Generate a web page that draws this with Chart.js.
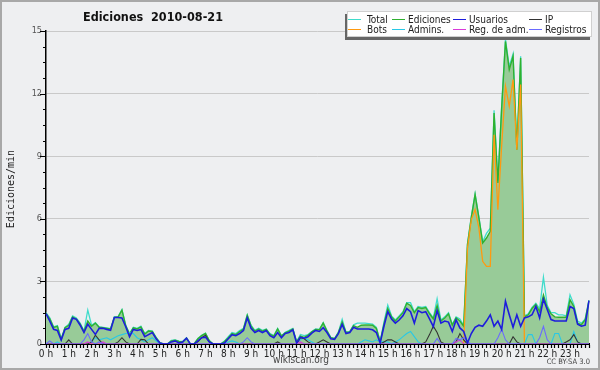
<!DOCTYPE html>
<html>
<head>
<meta charset="utf-8">
<script src="https://cdn.jsdelivr.net/npm/chart.js"></script>
<style>
  body { margin: 0; background: #eeeff1; }
  canvas { display: block; }
</style>
</head>
<body>
<canvas id="edits" width="600" height="370"></canvas>
<script>
// tick labels, one per hour (data is every 10 min)
const hourLabels = ['0 h','1 h','2 h','3 h','4 h','5 h','6 h','7 h','8 h','9 h','10 h','11 h',
  '12 h','13 h','14 h','15 h','16 h','17 h','18 h','19 h','20 h','21 h','22 h','23 h'];
const yTicks = [0, 3, 6, 9, 12, 15];

// edits per minute, 144 slots of 10 min
const total = [
  1.5,1.25,0.82,0.88,0.25,0.8,0.95,1.35,1.25,1.0,
  0.62,1.63,0.9,1.02,0.82,0.8,0.77,0.74,1.3,1.32,
  1.65,0.9,0.5,0.8,0.75,0.85,0.5,0.65,0.62,0.32,
  0.07,0,0,0.17,0.2,0.14,0.12,0.3,0,0,
  0.27,0.42,0.52,0.17,0,0,0,0.14,0.35,0.55,
  0.5,0.65,0.75,1.4,0.9,0.65,0.75,0.65,0.72,0.5,
  0.4,0.75,0.4,0.56,0.65,0.75,0.12,0.45,0.4,0.45,
  0.6,0.72,0.7,1.02,0.65,0.32,0.27,0.57,1.18,0.57,
  0.6,0.92,1.0,1.0,1.0,0.98,0.95,0.8,0.12,1.05,
  1.86,1.35,1.15,1.35,1.55,1.98,1.98,1.55,1.8,1.75,
  1.8,1.5,1.25,2.17,1.15,1.3,1.5,0.95,1.3,1.2,
  0.9,4.8,6.1,7.2,6.1,4.9,5.3,5.55,11.2,7.8,
  11.4,14.6,13.3,13.9,9.4,13.79,1.35,1.45,1.75,1.95,
  1.7,3.2,1.85,1.5,1.5,1.4,1.4,1.35,2.36,1.9,
  1.1,1.0,1.2,2.1
];
const ediciones = [
  1.47,1.2,0.8,0.85,0.22,0.78,0.9,1.3,1.2,0.95,
  0.6,1.1,0.85,1.0,0.8,0.78,0.75,0.72,1.28,1.3,
  1.62,0.87,0.47,0.78,0.72,0.82,0.47,0.62,0.6,0.3,
  0.05,0,0,0.15,0.18,0.12,0.1,0.28,0,0,
  0.25,0.4,0.5,0.15,0,0,0,0.12,0.3,0.5,
  0.45,0.6,0.72,1.37,0.86,0.62,0.72,0.62,0.7,0.46,
  0.38,0.72,0.38,0.54,0.62,0.72,0.1,0.38,0.32,0.42,
  0.58,0.7,0.68,1.0,0.62,0.3,0.25,0.55,1.05,0.55,
  0.58,0.88,0.8,0.9,0.91,0.91,0.9,0.75,0.1,0.95,
  1.7,1.3,1.1,1.3,1.5,1.95,1.85,1.5,1.75,1.7,
  1.75,1.45,1.2,1.85,1.1,1.25,1.45,0.9,1.25,1.1,
  0.85,4.76,6.04,7.16,6.04,4.84,5.08,5.4,11.07,7.72,
  11.3,14.5,13.15,13.79,9.31,13.7,1.3,1.4,1.7,1.9,
  1.55,2.35,1.75,1.45,1.3,1.28,1.28,1.28,2.12,1.8,
  1.0,0.93,1.17,2.08
];
const usuarios = [
  1.45,1.1,0.7,0.65,0.19,0.7,0.75,1.25,1.18,0.9,
  0.55,0.95,0.7,0.46,0.75,0.75,0.7,0.66,1.27,1.27,
  1.25,0.83,0.35,0.7,0.65,0.7,0.35,0.45,0.55,0.25,
  0.05,0,0,0.1,0.15,0.05,0.1,0.28,0,0,
  0.15,0.3,0.33,0.1,0,0,0,0.05,0.25,0.45,
  0.4,0.5,0.65,1.26,0.75,0.55,0.65,0.55,0.65,0.4,
  0.3,0.55,0.3,0.5,0.55,0.68,0.05,0.33,0.28,0.35,
  0.52,0.65,0.6,0.78,0.55,0.25,0.22,0.5,0.94,0.5,
  0.55,0.8,0.72,0.72,0.72,0.72,0.68,0.55,0.05,0.85,
  1.55,1.2,1.0,1.15,1.35,1.7,1.55,1.0,1.6,1.5,
  1.55,1.2,0.83,1.6,1.0,1.1,1.05,0.6,1.15,0.77,
  0.6,0.05,0.5,0.8,0.9,0.85,1.1,1.4,0.85,1.1,
  0.7,2.05,1.4,0.8,1.4,0.85,1.25,1.3,1.4,1.8,
  1.25,2.15,1.65,1.17,1.1,1.1,1.1,1.1,1.8,1.7,
  0.95,0.85,0.9,2.08
];
const ip = [
  0,0,0,0,0,0,0.2,0,0,0,
  0,0,0.1,0.42,0.2,0,0,0,0,0.1,
  0.3,0.1,0,0,0,0.22,0.2,0,0,0,
  0,0,0,0,0,0,0,0,0,0,
  0.1,0.3,0.42,0.1,0,0,0,0,0,0,
  0,0,0,0,0,0,0,0,0,0,
  0,0.1,0,0,0,0,0,0.3,0.25,0.1,
  0,0,0.1,0.2,0.1,0,0,0,0,0,
  0,0,0,0,0,0,0,0,0,0.1,
  0.2,0.2,0.1,0,0,0,0,0,0,0,
  0.1,0.45,0.85,0.55,0.1,0,0,0,0.1,0.5,
  0.2,0,0,0,0,0,0,0,0,0,
  0,0,0,0.35,0.1,0,0,0,0,0,
  0,0,0,0,0,0,0,0.1,0.2,0.45,
  0.1,0,0,0
];
const bots = [
  0,0,0,0,0,0,0,0,0,0, 0,0,0,0,0,0,0,0,0,0,
  0,0,0,0,0,0,0,0,0,0, 0,0,0,0,0,0,0,0,0,0,
  0,0,0,0,0,0,0,0,0,0, 0,0,0,0,0,0,0,0,0,0,
  0,0,0,0,0,0,0,0,0,0, 0,0,0,0,0,0,0,0,0,0,
  0,0,0,0,0,0,0,0,0,0, 0,0,0,0,0,0,0,0,0,0,
  0,0,0,0,0,0,0,0,0,0,
  0,4.6,5.96,6.44,5.56,3.96,3.72,3.72,10.03,6.44,
  9.5,12.35,11.39,12.67,9.31,12.43,0,0,0,0,
  0,0,0,0,0,0,0,0,0,0,
  0,0,0,0
];
const admins = [
  0,0,0,0.1,0,0,0,0,0,0,
  0,0,0.1,0.3,0.2,0.25,0.3,0.2,0.3,0.4,
  0.45,0.5,0.55,0.5,0.3,0.2,0.1,0.2,0.3,0.15,
  0,0,0,0,0,0,0,0,0,0,
  0,0,0,0,0,0,0,0,0.1,0.15,
  0.1,0,0,0,0,0,0,0,0,0,
  0,0,0,0,0,0,0,0.2,0.3,0.2,
  0.1,0,0,0,0,0,0,0,0,0,
  0,0,0,0.1,0.2,0.15,0.1,0.2,0.1,0.1,
  0.1,0,0.1,0.2,0.35,0.5,0.6,0.35,0.1,0,
  0,0,0,0,0,0,0,0,0,0,
  0,0,0,0,0,0,0,0,0,0,
  0,0,0,0,0,0,0,0.45,0.45,0,
  0,0,0,0,0.5,0.5,0,0,0,0.6,
  0.1,0,0,0
];
const regAdm = [
  0,0,0,0,0,0,0,0,0,0,
  0,0.1,0,0,0,0.1,0,0,0,0,
  0,0,0,0,0,0,0,0,0,0,
  0,0,0,0,0,0,0,0,0,0,
  0,0,0,0,0,0,0,0,0,0,
  0,0,0,0,0,0,0,0,0,0,
  0,0,0,0,0,0,0,0.1,0,0,
  0,0,0,0,0,0,0,0,0,0,
  0,0,0,0,0,0,0,0,0,0,
  0,0,0,0,0,0,0,0,0,0,
  0,0,0,0,0,0,0,0,0.1,0.2,
  0,0,0,0,0,0,0,0,0,0,
  0,0,0,0,0,0,0,0,0,0,
  0,0,0,0,0,0,0,0,0,0,
  0,0,0,0
];
const registros = [
  0,0.15,0,0,0,0,0,0,0,0,
  0.2,0.5,0.1,0,0.1,0,0,0,0,0,
  0,0,0,0,0,0,0,0,0,0,
  0,0,0,0,0,0,0,0,0,0,
  0,0,0,0,0,0,0,0,0,0,
  0,0,0.1,0.3,0.1,0,0,0,0,0,
  0,0,0,0,0,0,0,0,0,0,
  0,0,0,0,0,0,0,0,0,0,
  0,0,0,0,0,0,0,0,0,0,
  0,0,0,0,0,0,0,0,0,0,
  0,0,0,0.27,0,0,0,0,0.27,0.2,
  0.3,0.1,0,0,0,0,0,0,0,0.3,
  0.7,0.2,0,0,0,0,0,0,0,0,
  0.3,0.85,0.2,0,0,0,0,0,0,0,
  0,0,0,0
];

// build the 144 category labels from the hour labels
const slotLabels = [];
hourLabels.forEach((h) => {
  for (let m = 0; m < 6; m++) slotLabels.push(m === 0 ? h : '');
});

const BG = '#eeeff1';
const condensed = '"DejaVu Sans Condensed", "DejaVu Sans", sans-serif';

const series = [
  { label: 'Usuarios', data: usuarios, color: '#1d1ddc', width: 1.6 },
  { label: 'Registros', data: registros, color: '#6a6aff', width: 1.1 },
  { label: 'Reg. de adm.', data: regAdm, color: '#d93ad9', width: 1.1 },
  { label: 'IP', data: ip, color: '#333333', width: 1.1 },
  { label: 'Admins.', data: admins, color: '#28c8e6', width: 1.1 },
  { label: 'Bots', data: bots, color: '#ff9a10', width: 1.3 },
  { label: 'Ediciones', data: ediciones, color: '#2fb12f', width: 1.4, fill: 'origin' },
  { label: 'Total', data: total, color: '#3fdccb', width: 1.3 }
];

// legend layout order as in the picture
const legendRows = [
  ['Total', 'Ediciones', 'Usuarios', 'IP'],
  ['Bots', 'Admins.', 'Reg. de adm.', 'Registros']
];
const legendLineX = [348, 392, 453, 529];
const legendTextX = [367, 408, 469, 545];

const decor = {
  id: 'decor',
  beforeDraw(chart) {
    const c = chart.ctx;
    c.save();
    c.fillStyle = BG;
    c.fillRect(0, 0, chart.width, chart.height);
    c.restore();
  },
  afterDraw(chart) {
    const c = chart.ctx;
    const y = chart.scales.y;
    const area = chart.chartArea;
    c.save();
    // y tick marks, major every 3, minor every 0.75
    c.strokeStyle = '#000';
    c.lineWidth = 1;
    for (let v = 0; v <= 15.001; v += 0.75) {
      const py = Math.round(y.getPixelForValue(v)) + 0.5;
      const major = Math.abs(v % 3) < 0.01;
      c.beginPath();
      c.moveTo(area.left - (major ? 6 : 3), py);
      c.lineTo(area.left, py);
      c.stroke();
    }

    // title
    c.fillStyle = '#111';
    c.font = 'bold 12.5px ' + condensed;
    c.textAlign = 'center';
    c.textBaseline = 'alphabetic';
    c.fillText('Ediciones  2010-08-21', 153, 21);

    // y axis title
    c.save();
    c.translate(14, 189);
    c.rotate(-Math.PI / 2);
    c.font = '10px "DejaVu Sans Mono", monospace';
    c.fillStyle = '#222';
    c.textAlign = 'center';
    c.fillText('Ediciones/min', 0, 0);
    c.restore();

    // legend box with shadow
    c.fillStyle = '#666';
    c.fillRect(345, 14, 245, 26);
    c.fillStyle = '#ffffff';
    c.fillRect(347, 11, 245, 26);
    c.strokeStyle = '#d0d0d0';
    c.strokeRect(347.5, 11.5, 244, 25);
    c.font = '10px ' + condensed;
    c.textAlign = 'left';
    legendRows.forEach((row, r) => {
      const ly = r === 0 ? 19.5 : 29.5;
      row.forEach((name, k) => {
        const s = series.find((d) => d.label === name);
        const lx = legendLineX[k];
        c.strokeStyle = s.color;
        c.lineWidth = 1;
        c.beginPath();
        c.moveTo(lx, ly);
        c.lineTo(lx + 13, ly);
        c.stroke();
        c.fillStyle = '#222';
        c.fillText(name, legendTextX[k], ly + 3.5);
      });
    });

    // footer
    c.fillStyle = '#444';
    c.font = '10px ' + condensed;
    c.textAlign = 'center';
    c.fillText('wikiscan.org', 301, 363);
    c.font = '7.5px ' + condensed;
    c.textAlign = 'right';
    c.fillText('CC BY-SA 3.0', 590, 364);

    // outer frame
    c.strokeStyle = '#a8a8a8';
    c.lineWidth = 2;
    c.strokeRect(1, 1, chart.width - 2, chart.height - 2);
    c.restore();
  }
};

new Chart(document.getElementById('edits'), {
  type: 'line',
  data: {
    labels: slotLabels,
    datasets: series.map((s) => ({
      label: s.label,
      data: s.data,
      borderColor: s.color,
      borderWidth: s.width,
      backgroundColor: s.fill ? '#98cb98' : s.color,
      fill: s.fill || false,
      pointRadius: 0,
      tension: 0
    }))
  },
  options: {
    responsive: false,
    animation: false,
    layout: { padding: { top: 31, right: 11, left: 0, bottom: 0 } },
    plugins: {
      legend: { display: false },
      title: { display: false },
      tooltip: { enabled: false },
      filler: { drawTime: 'beforeDatasetsDraw' }
    },
    scales: {
      x: {
        type: 'category',
        offset: false,
        afterFit: (scale) => { scale.height = 26; },
        grid: { display: true, drawOnChartArea: false, drawTicks: true, tickLength: 4, tickColor: '#000', tickWidth: 1.2 },
        border: { display: true, color: '#000', width: 2 },
        ticks: {
          autoSkip: false,
          maxRotation: 0,
          padding: 0,
          color: '#222',
          font: { family: condensed, size: 10 },
          callback: (v, i) => slotLabels[i]
        }
      },
      y: {
        min: 0,
        max: 15,
        afterFit: (scale) => { scale.width = 46; },
        afterBuildTicks: (scale) => { scale.ticks = yTicks.map((v) => ({ value: v })); },
        grid: {
          drawTicks: false,
          color: (ctx) => (ctx.tick && ctx.tick.value > 0 ? '#c9c9c9' : 'rgba(0,0,0,0)'),
          lineWidth: 1
        },
        border: { display: true, color: '#000', width: 1.5 },
        ticks: {
          padding: 4,
          color: '#555',
          font: { family: condensed, size: 9 }
        }
      }
    }
  },
  plugins: [decor]
});
</script>
</body>
</html>
